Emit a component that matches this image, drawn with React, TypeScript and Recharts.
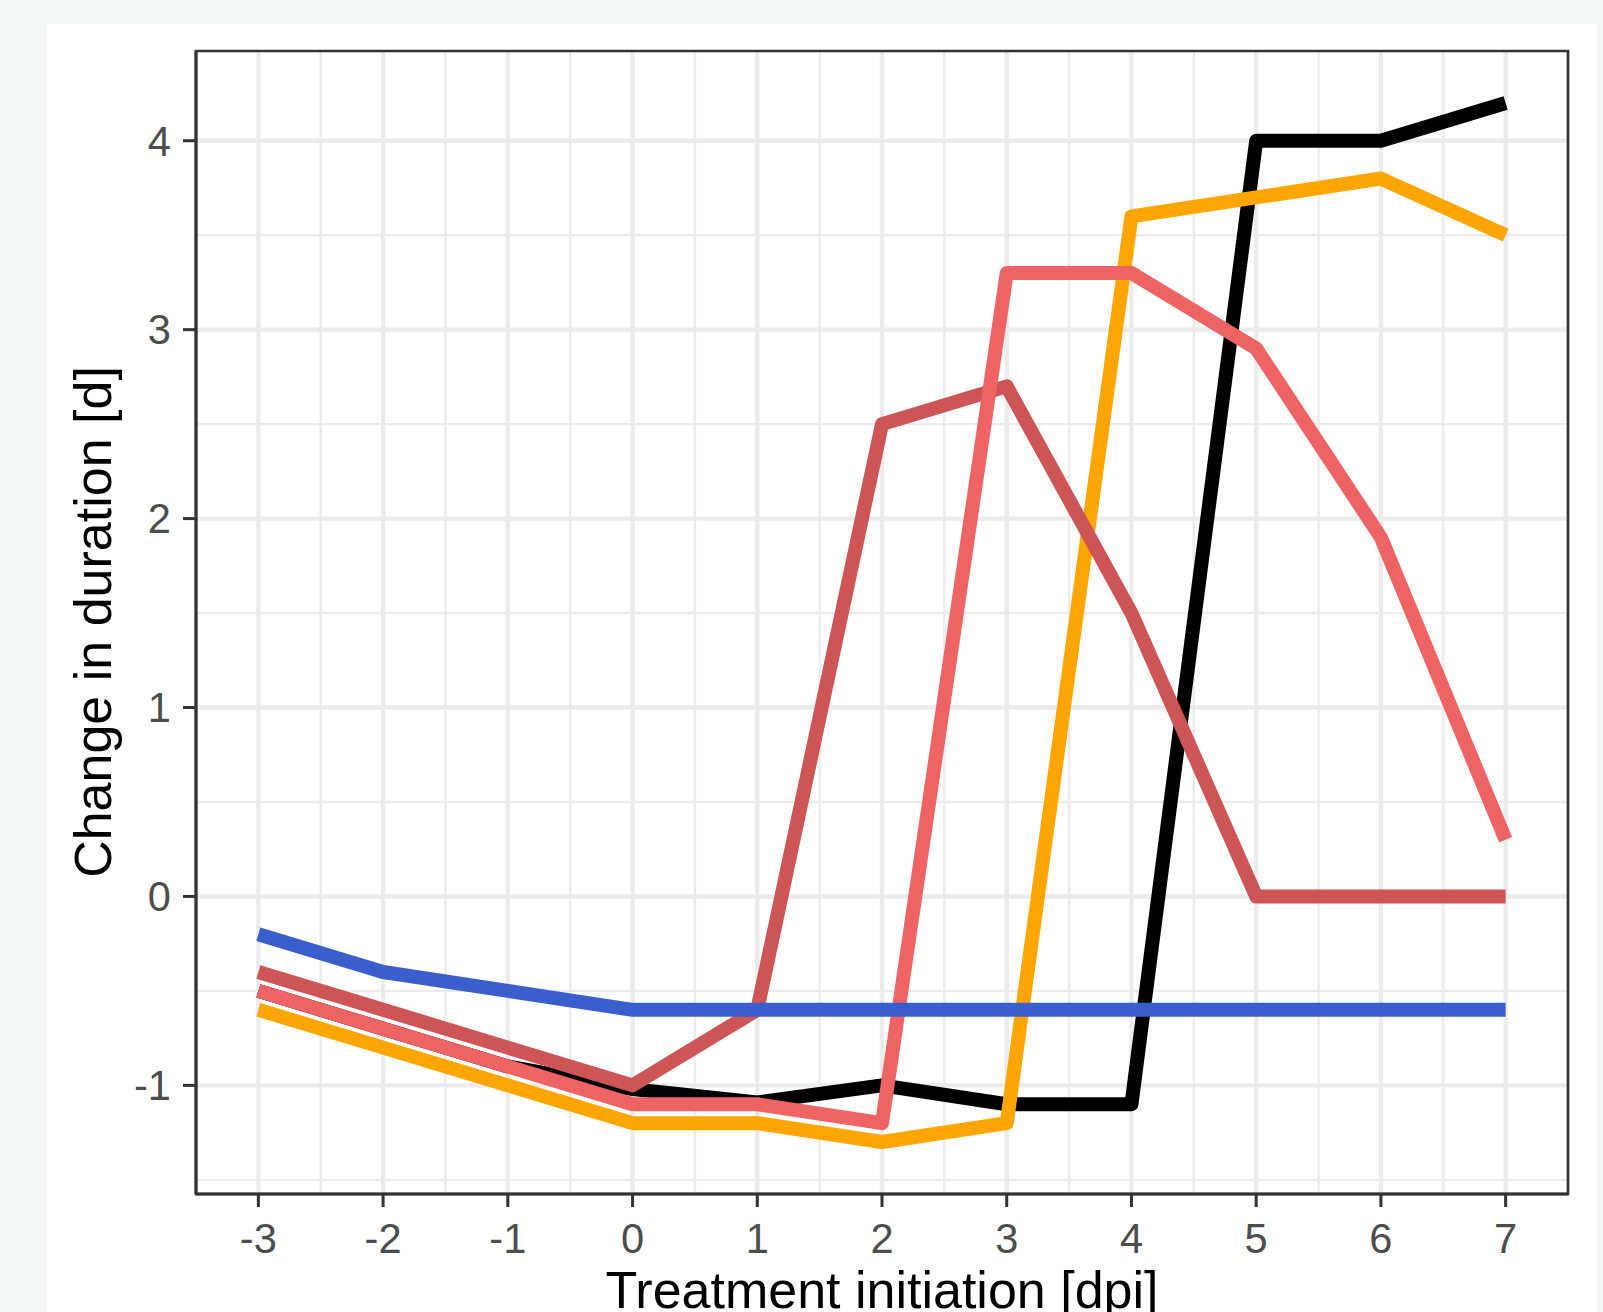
import React from 'react'
import { LineChart, Line, XAxis, YAxis, CartesianGrid, ReferenceArea } from 'recharts'

// treatment initiation (dpi)
const days = [-3, -2, -1, 0, 1, 2, 3, 4, 5, 6, 7]

// change in duration per series
const blackSeries = [-0.5, -0.7, -0.9, -1.02, -1.09, -1.0, -1.1, -1.1, 4.0, 4.0, 4.2]
const orangeSeries = [-0.6, -0.8, -1.0, -1.2, -1.2, -1.3, -1.2, 3.6, 3.7, 3.8, 3.5]
const darkRedSeries = [-0.4, -0.6, -0.8, -1.0, -0.6, 2.5, 2.7, 1.5, 0, 0, 0]
const pinkSeries = [-0.5, -0.7, -0.9, -1.1, -1.1, -1.2, 3.3, 3.3, 2.9, 1.9, 0.3]
const blueSeries = [-0.2, -0.4, -0.5, -0.6, -0.6, -0.6, -0.6, -0.6, -0.6, -0.6, -0.6]

const xTicks = [-3, -2, -1, 0, 1, 2, 3, 4, 5, 6, 7]
const xMinor = [-2.5, -1.5, -0.5, 0.5, 1.5, 2.5, 3.5, 4.5, 5.5, 6.5]
const yTicks = [-1, 0, 1, 2, 3, 4]
const yMinor = [-1.5, -0.5, 0.5, 1.5, 2.5, 3.5]
const xDomain = [-3.5, 7.5]
const yDomain = [-1.575, 4.475]

const chartData = days.map((d, i) => ({
  day: d,
  black: blackSeries[i],
  orange: orangeSeries[i],
  darkred: darkRedSeries[i],
  pink: pinkSeries[i],
  blue: blueSeries[i],
}))

const FONT = '"Liberation Sans", Arial, sans-serif'
const tickStyle = { fontSize: 41.6, fill: '#4d4d4d', fontFamily: FONT }

const App: React.FC = () => {
  return (
    <div style={{ position: 'absolute', left: 0, top: 0, width: 1603, height: 1312, background: '#f3f8f6', overflow: 'hidden' }}>
      <div style={{ position: 'absolute', left: 47, top: 24, width: 1550, height: 1288, background: '#ffffff' }} />
      <LineChart
        width={1603}
        height={1312}
        data={chartData}
        margin={{ top: 51, right: 35, left: 0, bottom: 0 }}
        style={{ position: 'absolute', left: 0, top: 0 }}
      >
        <CartesianGrid stroke="#ebebeb" strokeWidth={2.4} horizontalValues={yMinor} verticalValues={xMinor} />
        <CartesianGrid stroke="#ebebeb" strokeWidth={4.4} horizontalValues={yTicks} verticalValues={xTicks} />
        <XAxis
          dataKey="day"
          type="number"
          domain={xDomain}
          ticks={xTicks}
          interval={0}
          allowDataOverflow
          height={118}
          tickSize={13}
          tickMargin={16}
          tick={tickStyle}
          axisLine={{ stroke: '#333333', strokeWidth: 3 }}
          tickLine={{ stroke: '#333333', strokeWidth: 3 }}
        />
        <YAxis
          type="number"
          domain={yDomain}
          ticks={yTicks}
          interval={0}
          allowDataOverflow
          width={196}
          tickSize={13}
          tickMargin={12}
          tick={tickStyle}
          axisLine={{ stroke: '#333333', strokeWidth: 3 }}
          tickLine={{ stroke: '#333333', strokeWidth: 3 }}
        />
        <ReferenceArea
          x1={xDomain[0]}
          x2={xDomain[1]}
          y1={yDomain[0]}
          y2={yDomain[1]}
          fill="none"
          stroke="#333333"
          strokeWidth={2.7}
          ifOverflow="visible"
        />
        <Line type="linear" dataKey="black" stroke="#000000" strokeWidth={14} dot={false} strokeLinecap="butt" strokeLinejoin="round" isAnimationActive={false} />
        <Line type="linear" dataKey="orange" stroke="#ffa500" strokeWidth={14} dot={false} strokeLinecap="butt" strokeLinejoin="round" isAnimationActive={false} />
        <Line type="linear" dataKey="darkred" stroke="#cd5555" strokeWidth={14} dot={false} strokeLinecap="butt" strokeLinejoin="round" isAnimationActive={false} />
        <Line type="linear" dataKey="pink" stroke="#ee6363" strokeWidth={14} dot={false} strokeLinecap="butt" strokeLinejoin="round" isAnimationActive={false} />
        <Line type="linear" dataKey="blue" stroke="#3a5fcd" strokeWidth={14} dot={false} strokeLinecap="butt" strokeLinejoin="round" isAnimationActive={false} />
      </LineChart>
      <div
        style={{
          position: 'absolute',
          left: 92.8 - 400,
          top: 622 - 26,
          width: 800,
          height: 52,
          lineHeight: '52px',
          fontSize: 52,
          fontFamily: FONT,
          color: '#000000',
          textAlign: 'center',
          transform: 'rotate(-90deg)',
          whiteSpace: 'nowrap',
        }}
      >
        Change in duration [d]
      </div>
      <div
        style={{
          position: 'absolute',
          left: 882 - 400,
          top: 1264,
          width: 800,
          height: 52,
          lineHeight: '52px',
          fontSize: 52,
          fontFamily: FONT,
          color: '#000000',
          textAlign: 'center',
          whiteSpace: 'nowrap',
        }}
      >
        Treatment initiation [dpi]
      </div>
    </div>
  )
}

export default App
